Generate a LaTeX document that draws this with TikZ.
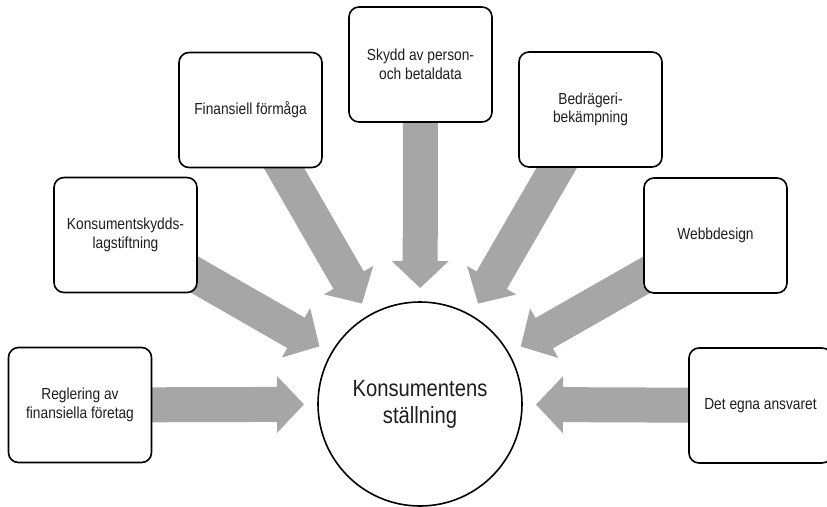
\documentclass[tikz,border=0pt]{standalone}
\usepackage{fontspec}
\setmainfont{Liberation Sans}[FakeStretch=0.86]
\usetikzlibrary{calc,backgrounds}

\definecolor{arrowgray}{HTML}{A6A6A6}
\definecolor{inkdark}{HTML}{1E1E1E}

\tikzset{
  topic/.style={draw=black, line width=1.6pt, rounded corners=10pt, fill=white,
    minimum width=143pt, minimum height=115pt, align=center, text=inkdark,
    font=\fontsize{16}{18.5}\selectfont, inner sep=2pt},
  hubnode/.style={circle, draw=black, line width=1.6pt, fill=white,
    minimum size=204pt, inner sep=0pt, align=center, text=inkdark,
    font=\fontsize{23.5}{27}\selectfont},
  arrowfill/.style={fill=arrowgray}
}

% Broad block arrow pointing from a topic box towards the hub.
% Shaft 35pt wide, head 57pt wide and 27pt long, tip 116pt from the hub centre.
\newcommand{\feedarrow}[1]{%
  \coordinate (tip-#1) at ($(hub)!116pt!(#1)$);
  \coordinate (base-#1) at ($(tip-#1)!27pt!(#1)$);
  \fill[arrowfill]
    ($(#1)!17.5pt!90:(tip-#1)$) --
    ($(base-#1)!17.5pt!-90:(#1)$) --
    ($(base-#1)!28.5pt!-90:(#1)$) --
    (tip-#1) --
    ($(base-#1)!28.5pt!90:(#1)$) --
    ($(base-#1)!17.5pt!90:(#1)$) --
    ($(#1)!17.5pt!-90:(tip-#1)$) -- cycle;
}

\begin{document}
\begin{tikzpicture}[x=1pt, y=-1pt]
  \useasboundingbox (0,0) rectangle (827,506);
  \clip (0,0) rectangle (827,506);

  \node[hubnode] (hub) at (420,404) {Konsumentens\\ställning};

  \node[topic] (reg)  at (80,405)    {Reglering av\\finansiella företag};
  \node[topic] (lag)  at (125.5,235) {Konsumentskydds-\\lagstiftning};
  \node[topic] (fin)  at (250.5,110) {Finansiell förmåga};
  \node[topic] (data) at (420.5,64.5){Skydd av person-\\och betaldata};
  \node[topic] (bed)  at (590.5,109.5){Bedrägeri-\\bekämpning};
  \node[topic] (web)  at (715.5,235.5){Webbdesign};
  \node[topic] (egna) at (760.5,405.5){Det egna ansvaret};

  \begin{scope}[on background layer]
    \feedarrow{reg}
    \feedarrow{lag}
    \feedarrow{fin}
    \feedarrow{data}
    \feedarrow{bed}
    \feedarrow{web}
    \feedarrow{egna}
  \end{scope}
\end{tikzpicture}
\end{document}
